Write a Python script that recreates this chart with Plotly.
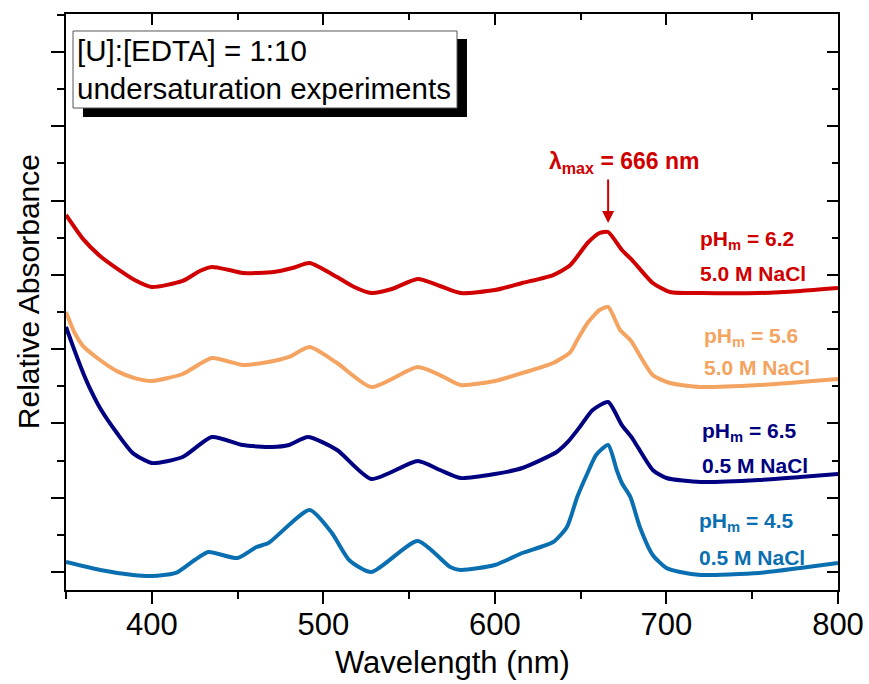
import plotly.graph_objects as go

# ---------------- data ----------------
wl_red = [350, 360, 370, 380, 390, 400, 418, 428, 435, 445, 453, 471, 482, 492, 508, 518, 528, 540, 555, 568, 580,
          600, 616, 634, 644, 654, 661, 666, 674, 680, 692, 702, 720, 754, 778, 800]
abs_red = [4.805, 4.480, 4.250, 4.080, 3.930, 3.836, 3.917, 4.051, 4.105, 4.065, 4.024, 4.038, 4.092, 4.159, 3.970,
           3.836, 3.755, 3.809, 3.943, 3.849, 3.755, 3.795, 3.890, 3.997, 4.132, 4.428, 4.563, 4.576, 4.334, 4.199,
           3.890, 3.769, 3.755, 3.755, 3.782, 3.822]

wl_orange = [350, 355, 360, 370, 380, 390, 400, 418, 435, 453, 468, 480, 492, 508, 528, 555, 568, 580, 600, 616, 634,
             644, 648, 654, 661, 666, 673, 679, 692, 702, 720, 754, 778, 800]
abs_orange = [3.499, 3.220, 3.040, 2.850, 2.700, 2.610, 2.571, 2.665, 2.880, 2.786, 2.826, 2.894, 3.028, 2.813, 2.490,
              2.759, 2.651, 2.517, 2.571, 2.678, 2.813, 2.961, 3.122, 3.351, 3.526, 3.567, 3.257, 3.122, 2.651, 2.544,
              2.490, 2.517, 2.557, 2.598]

wl_navy = [350, 355, 360, 365, 370, 380, 389, 400, 418, 435, 453, 470, 480, 491, 508, 528, 555, 568, 580, 600, 616,
           636, 642.5, 649.5, 657, 666, 674, 680, 692, 700, 720, 754, 778, 800]
abs_navy = [3.297, 2.980, 2.680, 2.420, 2.200, 1.860, 1.600, 1.467, 1.548, 1.817, 1.709, 1.682, 1.709, 1.817, 1.642,
            1.252, 1.494, 1.373, 1.265, 1.319, 1.400, 1.615, 1.750, 1.952, 2.180, 2.288, 1.978, 1.803, 1.373, 1.265,
            1.211, 1.238, 1.279, 1.319]

wl_blue = [350, 370, 389, 400, 414, 425, 433, 450, 461, 468, 492, 505, 515, 528, 555, 574, 580, 600, 616, 634, 642,
           648, 654, 659, 666, 671, 674, 679, 684.5, 692, 700, 708, 720, 754, 778, 800]
abs_blue = [0.135, 0.027, -0.040, -0.054, -0.013, 0.162, 0.269, 0.188, 0.336, 0.390, 0.834, 0.525, 0.162, 0.000,
            0.417, 0.067, 0.027, 0.094, 0.256, 0.404, 0.606, 1.009, 1.332, 1.575, 1.709, 1.373, 1.198, 1.009, 0.606,
            0.229, 0.054, 0.000, -0.040, -0.013, 0.054, 0.121]

series_names = ["pHm = 6.2, 5.0 M NaCl", "pHm = 5.6, 5.0 M NaCl", "pHm = 6.5, 0.5 M NaCl", "pHm = 4.5, 0.5 M NaCl"]
label_ph = ["pH<sub>m</sub> = 6.2", "pH<sub>m</sub> = 5.6", "pH<sub>m</sub> = 6.5", "pH<sub>m</sub> = 4.5"]
label_salt = ["5.0 M NaCl", "5.0 M NaCl", "0.5 M NaCl", "0.5 M NaCl"]
label_x = [718.3, 720.6, 719.5, 717.7]
label_y_ph = [4.47, 3.16, 1.88, 0.67]
label_y_salt = [4.02, 2.75, 1.44, 0.20]
colors = ["#D00000", "#F4A460", "#000080", "#0A6FB0"]

lambda_max = 666
lambda_tip = 4.697
lambda_text_x = 630.4
lambda_text_y = 5.505

x_range = [350, 800]
y_range = [-0.242, 7.510]

FONT = "Arial, Liberation Sans, sans-serif"

fig = go.Figure()
for wl, ab, col, nm in zip([wl_red, wl_orange, wl_navy, wl_blue],
                           [abs_red, abs_orange, abs_navy, abs_blue], colors, series_names):
    fig.add_trace(go.Scatter(x=wl, y=ab, mode="lines", name=nm,
                             line=dict(color=col, width=4, shape="spline", smoothing=0.6),
                             showlegend=False, hoverinfo="skip"))

# dummy trace so the mirrored (top/right) axes are drawn
fig.add_trace(go.Scatter(x=[], y=[], xaxis="x2", yaxis="y2", showlegend=False))

axis_common = dict(showline=True, linecolor="black", linewidth=2, showgrid=False, zeroline=False,
                   tickcolor="black", tickwidth=2, automargin=False)

fig.update_layout(
    width=869, height=684, autosize=False,
    margin=dict(l=66, r=31, t=14, b=94, autoexpand=False),
    showlegend=False,
    paper_bgcolor="white", plot_bgcolor="white",
    font=dict(family=FONT, color="black"),
    xaxis=dict(range=x_range, tick0=400, dtick=100, ticks="outside", ticklen=12,
               tickfont=dict(size=31, family=FONT), ticklabelstandoff=-6,
               minor=dict(ticks="outside", ticklen=7, tickwidth=2, tickcolor="black", dtick=50, tick0=350),
               **axis_common),
    yaxis=dict(range=y_range, tick0=0, dtick=1, ticks="outside", ticklen=13, showticklabels=False,
               minor=dict(ticks="outside", ticklen=7, tickwidth=2, tickcolor="black", dtick=0.5, tick0=0.5),
               **axis_common),
    xaxis2=dict(range=x_range, overlaying="x", side="top", anchor="y2", tick0=400, dtick=100,
                ticks="inside", ticklen=11, showticklabels=False,
                minor=dict(ticks="inside", ticklen=6, tickwidth=2, tickcolor="black", dtick=50, tick0=350),
                **axis_common),
    yaxis2=dict(range=y_range, overlaying="y", side="right", anchor="x2", tick0=0, dtick=1,
                ticks="inside", ticklen=11, showticklabels=False,
                minor=dict(ticks="inside", ticklen=6, tickwidth=2, tickcolor="black", dtick=0.5, tick0=0.5),
                **axis_common),
)

annotations = []
# axis titles
annotations.append(dict(text="Wavelength (nm)", xref="paper", yref="paper", x=0.5, xanchor="center", y=0,
                        yanchor="middle", yshift=-72, showarrow=False,
                        font=dict(size=31, family=FONT, color="black")))
annotations.append(dict(text="Relative Absorbance", xref="paper", yref="paper", x=0, xanchor="center", xshift=-38,
                        y=0.517, yanchor="middle", textangle=-90, showarrow=False,
                        font=dict(size=30, family=FONT, color="black")))
# info box text
annotations.append(dict(text="[U]:[EDTA] = 1:10<br>undersaturation experiments", xref="paper", yref="paper",
                        x=0.0091, xanchor="left", xshift=2, y=0.9028, yanchor="middle", align="left",
                        showarrow=False, font=dict(size=29.5, family=FONT, color="black")))
# series labels
for i in range(4):
    annotations.append(dict(text="<b>" + label_ph[i] + "</b>", x=label_x[i], y=label_y_ph[i], xanchor="left",
                            yanchor="middle", showarrow=False, font=dict(size=21, family=FONT, color=colors[i])))
    annotations.append(dict(text="<b>" + label_salt[i] + "</b>", x=label_x[i], y=label_y_salt[i], xanchor="left",
                            yanchor="middle", showarrow=False, font=dict(size=21, family=FONT, color=colors[i])))
# lambda max
annotations.append(dict(text="<b>λ<sub>max</sub> = %d nm</b>" % lambda_max, x=lambda_text_x, y=lambda_text_y,
                        xanchor="left", yanchor="middle", showarrow=False,
                        font=dict(size=23, family=FONT, color=colors[0])))
annotations.append(dict(text="", x=lambda_max, y=lambda_tip, ax=0, ay=-45, showarrow=True, arrowhead=2,
                        arrowsize=1.2, arrowwidth=2, arrowcolor=colors[0], standoff=0))
fig.update_layout(annotations=annotations)

# info box with drop shadow
fig.add_shape(type="rect", xref="paper", yref="paper", x0=0.022, x1=0.5194, y0=0.8212, y1=0.9566,
              fillcolor="black", line=dict(width=0), layer="above")
fig.add_shape(type="rect", xref="paper", yref="paper", x0=0.0091, x1=0.5065, y0=0.8368, y1=0.9705,
              fillcolor="white", line=dict(color="#555555", width=1), layer="above")

fig.write_html("out.html")
